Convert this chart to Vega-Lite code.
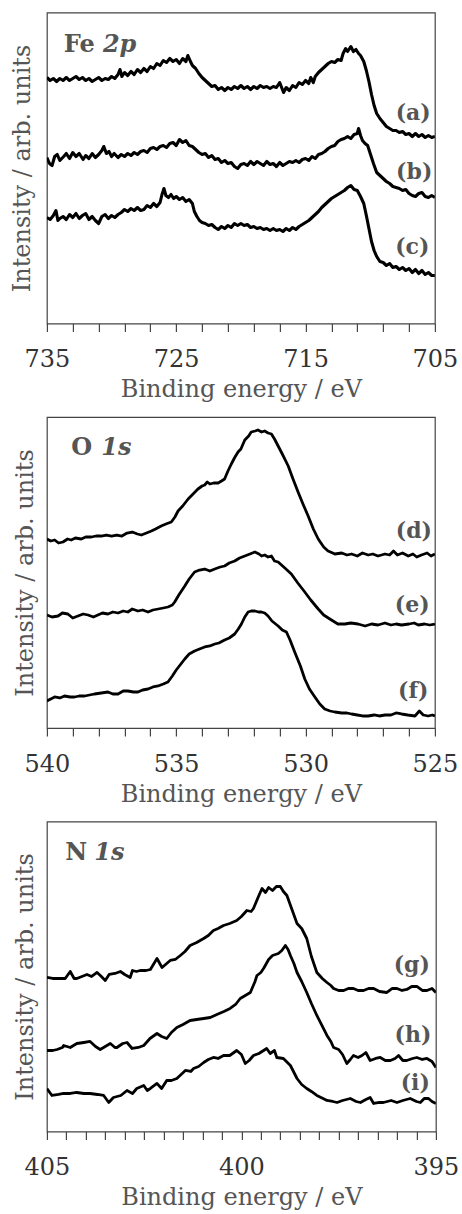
{
"$schema": "https://vega.github.io/schema/vega-lite/v6.json",
"padding": {"left": 9.9, "top": 11.5, "right": 5, "bottom": 0},
"spacing": 13.5,
"config": {
  "font": "DejaVu Serif",
  "view": {"stroke": "#444", "strokeWidth": 1.2},
  "text": {"font": "DejaVu Serif"},
  "axis": {"grid": false, "domain": false, "labelFont": "DejaVu Serif", "titleFont": "DejaVu Serif", "titleFontWeight": "normal", "labelFontSize": 24, "titleFontSize": 24, "labelColor": "#333", "titleColor": "#555", "tickColor": "#444", "tickWidth": 1.2, "minExtent": 0, "labelOverlap": false, "labelFlush": false, "labelBound": false, "format": "d"}
},
"datasets": {
"fe": [
{"s":"a","E":735.0,"I":246},{"s":"a","E":734.75,"I":243},{"s":"a","E":734.5,"I":245},{"s":"a","E":734.25,"I":242},{"s":"a","E":734.0,"I":245},{"s":"a","E":733.75,"I":243},{"s":"a","E":733.5,"I":246},{"s":"a","E":733.25,"I":243},{"s":"a","E":733.0,"I":245},{"s":"a","E":732.75,"I":247},{"s":"a","E":732.5,"I":244},{"s":"a","E":732.25,"I":246},{"s":"a","E":732.0,"I":243},{"s":"a","E":731.75,"I":245},{"s":"a","E":731.5,"I":242},{"s":"a","E":731.25,"I":244},{"s":"a","E":731.0,"I":246},{"s":"a","E":730.75,"I":243},{"s":"a","E":730.5,"I":245},{"s":"a","E":730.25,"I":244},{"s":"a","E":730.0,"I":247},{"s":"a","E":729.75,"I":245},{"s":"a","E":729.5,"I":249},{"s":"a","E":729.35,"I":254},{"s":"a","E":729.2,"I":247},{"s":"a","E":729.0,"I":251},{"s":"a","E":728.75,"I":248},{"s":"a","E":728.5,"I":252},{"s":"a","E":728.25,"I":249},{"s":"a","E":728.0,"I":254},{"s":"a","E":727.75,"I":251},{"s":"a","E":727.5,"I":255},{"s":"a","E":727.25,"I":252},{"s":"a","E":727.0,"I":257},{"s":"a","E":726.75,"I":255},{"s":"a","E":726.5,"I":260},{"s":"a","E":726.25,"I":258},{"s":"a","E":726.0,"I":263},{"s":"a","E":725.75,"I":261},{"s":"a","E":725.5,"I":265},{"s":"a","E":725.25,"I":262},{"s":"a","E":725.0,"I":264},{"s":"a","E":724.75,"I":260},{"s":"a","E":724.5,"I":265},{"s":"a","E":724.25,"I":262},{"s":"a","E":724.1,"I":268},{"s":"a","E":723.9,"I":262},{"s":"a","E":723.75,"I":258},{"s":"a","E":723.5,"I":255},{"s":"a","E":723.25,"I":250},{"s":"a","E":723.0,"I":246},{"s":"a","E":722.75,"I":243},{"s":"a","E":722.5,"I":240},{"s":"a","E":722.25,"I":237},{"s":"a","E":722.0,"I":238},{"s":"a","E":721.75,"I":234},{"s":"a","E":721.5,"I":236},{"s":"a","E":721.25,"I":233},{"s":"a","E":721.0,"I":236},{"s":"a","E":720.75,"I":234},{"s":"a","E":720.5,"I":237},{"s":"a","E":720.25,"I":235},{"s":"a","E":720.0,"I":238},{"s":"a","E":719.75,"I":235},{"s":"a","E":719.5,"I":237},{"s":"a","E":719.25,"I":234},{"s":"a","E":719.0,"I":237},{"s":"a","E":718.75,"I":235},{"s":"a","E":718.5,"I":238},{"s":"a","E":718.25,"I":236},{"s":"a","E":718.0,"I":237},{"s":"a","E":717.75,"I":235},{"s":"a","E":717.5,"I":237},{"s":"a","E":717.25,"I":236},{"s":"a","E":717.0,"I":241},{"s":"a","E":716.85,"I":236},{"s":"a","E":716.7,"I":231},{"s":"a","E":716.5,"I":236},{"s":"a","E":716.25,"I":233},{"s":"a","E":716.0,"I":238},{"s":"a","E":715.75,"I":236},{"s":"a","E":715.5,"I":241},{"s":"a","E":715.25,"I":239},{"s":"a","E":715.0,"I":243},{"s":"a","E":714.75,"I":240},{"s":"a","E":714.6,"I":246},{"s":"a","E":714.4,"I":241},{"s":"a","E":714.25,"I":247},{"s":"a","E":714.0,"I":251},{"s":"a","E":713.75,"I":254},{"s":"a","E":713.5,"I":257},{"s":"a","E":713.25,"I":260},{"s":"a","E":713.0,"I":262},{"s":"a","E":712.75,"I":261},{"s":"a","E":712.5,"I":264},{"s":"a","E":712.25,"I":263},{"s":"a","E":712.1,"I":270},{"s":"a","E":711.9,"I":275},{"s":"a","E":711.75,"I":272},{"s":"a","E":711.5,"I":277},{"s":"a","E":711.3,"I":272},{"s":"a","E":711.1,"I":274},{"s":"a","E":710.9,"I":270},{"s":"a","E":710.75,"I":268},{"s":"a","E":710.5,"I":262},{"s":"a","E":710.3,"I":253},{"s":"a","E":710.1,"I":242},{"s":"a","E":709.9,"I":229},{"s":"a","E":709.7,"I":218},{"s":"a","E":709.5,"I":210},{"s":"a","E":709.25,"I":205},{"s":"a","E":709.0,"I":201},{"s":"a","E":708.75,"I":197},{"s":"a","E":708.5,"I":195},{"s":"a","E":708.25,"I":193},{"s":"a","E":708.0,"I":193},{"s":"a","E":707.75,"I":191},{"s":"a","E":707.5,"I":192},{"s":"a","E":707.25,"I":189},{"s":"a","E":707.0,"I":190},{"s":"a","E":706.75,"I":187},{"s":"a","E":706.5,"I":190},{"s":"a","E":706.25,"I":187},{"s":"a","E":706.0,"I":189},{"s":"a","E":705.75,"I":186},{"s":"a","E":705.5,"I":188},{"s":"a","E":705.25,"I":186},{"s":"a","E":705.0,"I":187},
{"s":"b","E":735.0,"I":166},{"s":"b","E":734.8,"I":160},{"s":"b","E":734.6,"I":158},{"s":"b","E":734.4,"I":167},{"s":"b","E":734.2,"I":169},{"s":"b","E":734.0,"I":163},{"s":"b","E":733.7,"I":167},{"s":"b","E":733.5,"I":170},{"s":"b","E":733.25,"I":165},{"s":"b","E":733.0,"I":171},{"s":"b","E":732.75,"I":167},{"s":"b","E":732.5,"I":170},{"s":"b","E":732.2,"I":164},{"s":"b","E":732.0,"I":168},{"s":"b","E":731.75,"I":165},{"s":"b","E":731.5,"I":170},{"s":"b","E":731.25,"I":166},{"s":"b","E":731.0,"I":169},{"s":"b","E":730.75,"I":173},{"s":"b","E":730.6,"I":177},{"s":"b","E":730.4,"I":170},{"s":"b","E":730.2,"I":172},{"s":"b","E":730.0,"I":167},{"s":"b","E":729.8,"I":170},{"s":"b","E":729.5,"I":166},{"s":"b","E":729.25,"I":169},{"s":"b","E":729.0,"I":167},{"s":"b","E":728.75,"I":170},{"s":"b","E":728.5,"I":168},{"s":"b","E":728.25,"I":171},{"s":"b","E":728.0,"I":169},{"s":"b","E":727.75,"I":172},{"s":"b","E":727.5,"I":173},{"s":"b","E":727.25,"I":171},{"s":"b","E":727.0,"I":175},{"s":"b","E":726.75,"I":176},{"s":"b","E":726.5,"I":174},{"s":"b","E":726.25,"I":177},{"s":"b","E":726.0,"I":178},{"s":"b","E":725.75,"I":176},{"s":"b","E":725.5,"I":180},{"s":"b","E":725.25,"I":181},{"s":"b","E":725.0,"I":178},{"s":"b","E":724.75,"I":184},{"s":"b","E":724.5,"I":181},{"s":"b","E":724.25,"I":183},{"s":"b","E":724.0,"I":178},{"s":"b","E":723.75,"I":177},{"s":"b","E":723.5,"I":174},{"s":"b","E":723.25,"I":171},{"s":"b","E":723.0,"I":169},{"s":"b","E":722.75,"I":170},{"s":"b","E":722.5,"I":166},{"s":"b","E":722.25,"I":168},{"s":"b","E":722.0,"I":164},{"s":"b","E":721.75,"I":165},{"s":"b","E":721.5,"I":161},{"s":"b","E":721.25,"I":163},{"s":"b","E":721.0,"I":160},{"s":"b","E":720.75,"I":161},{"s":"b","E":720.5,"I":157},{"s":"b","E":720.25,"I":155},{"s":"b","E":720.0,"I":159},{"s":"b","E":719.75,"I":160},{"s":"b","E":719.5,"I":158},{"s":"b","E":719.25,"I":162},{"s":"b","E":719.0,"I":159},{"s":"b","E":718.75,"I":162},{"s":"b","E":718.5,"I":160},{"s":"b","E":718.25,"I":158},{"s":"b","E":718.0,"I":162},{"s":"b","E":717.75,"I":159},{"s":"b","E":717.5,"I":160},{"s":"b","E":717.25,"I":157},{"s":"b","E":717.0,"I":161},{"s":"b","E":716.75,"I":158},{"s":"b","E":716.5,"I":160},{"s":"b","E":716.25,"I":162},{"s":"b","E":716.0,"I":161},{"s":"b","E":715.75,"I":163},{"s":"b","E":715.5,"I":161},{"s":"b","E":715.25,"I":164},{"s":"b","E":715.0,"I":165},{"s":"b","E":714.75,"I":163},{"s":"b","E":714.5,"I":167},{"s":"b","E":714.25,"I":165},{"s":"b","E":714.0,"I":169},{"s":"b","E":713.75,"I":170},{"s":"b","E":713.5,"I":172},{"s":"b","E":713.25,"I":175},{"s":"b","E":713.0,"I":177},{"s":"b","E":712.75,"I":178},{"s":"b","E":712.5,"I":182},{"s":"b","E":712.25,"I":184},{"s":"b","E":712.0,"I":185},{"s":"b","E":711.75,"I":187},{"s":"b","E":711.5,"I":185},{"s":"b","E":711.25,"I":189},{"s":"b","E":711.0,"I":190},{"s":"b","E":710.9,"I":195},{"s":"b","E":710.75,"I":188},{"s":"b","E":710.6,"I":183},{"s":"b","E":710.4,"I":180},{"s":"b","E":710.2,"I":178},{"s":"b","E":710.0,"I":170},{"s":"b","E":709.75,"I":160},{"s":"b","E":709.5,"I":151},{"s":"b","E":709.25,"I":148},{"s":"b","E":709.0,"I":145},{"s":"b","E":708.75,"I":142},{"s":"b","E":708.5,"I":140},{"s":"b","E":708.25,"I":137},{"s":"b","E":708.0,"I":136},{"s":"b","E":707.75,"I":135},{"s":"b","E":707.5,"I":133},{"s":"b","E":707.25,"I":134},{"s":"b","E":707.0,"I":130},{"s":"b","E":706.75,"I":128},{"s":"b","E":706.5,"I":127},{"s":"b","E":706.25,"I":130},{"s":"b","E":706.0,"I":131},{"s":"b","E":705.75,"I":127},{"s":"b","E":705.5,"I":126},{"s":"b","E":705.25,"I":128},{"s":"b","E":705.0,"I":126},
{"s":"c","E":735.0,"I":106},{"s":"c","E":734.75,"I":104},{"s":"c","E":734.5,"I":108},{"s":"c","E":734.3,"I":113},{"s":"c","E":734.15,"I":103},{"s":"c","E":734.0,"I":105},{"s":"c","E":733.75,"I":107},{"s":"c","E":733.5,"I":104},{"s":"c","E":733.25,"I":109},{"s":"c","E":733.0,"I":106},{"s":"c","E":732.75,"I":110},{"s":"c","E":732.5,"I":105},{"s":"c","E":732.25,"I":108},{"s":"c","E":732.0,"I":110},{"s":"c","E":731.75,"I":104},{"s":"c","E":731.5,"I":107},{"s":"c","E":731.25,"I":103},{"s":"c","E":731.0,"I":100},{"s":"c","E":730.75,"I":107},{"s":"c","E":730.5,"I":109},{"s":"c","E":730.25,"I":105},{"s":"c","E":730.0,"I":108},{"s":"c","E":729.75,"I":106},{"s":"c","E":729.5,"I":109},{"s":"c","E":729.25,"I":111},{"s":"c","E":729.0,"I":114},{"s":"c","E":728.75,"I":112},{"s":"c","E":728.5,"I":115},{"s":"c","E":728.25,"I":113},{"s":"c","E":728.0,"I":116},{"s":"c","E":727.75,"I":113},{"s":"c","E":727.5,"I":114},{"s":"c","E":727.25,"I":118},{"s":"c","E":727.0,"I":116},{"s":"c","E":726.75,"I":120},{"s":"c","E":726.5,"I":117},{"s":"c","E":726.25,"I":121},{"s":"c","E":726.1,"I":129},{"s":"c","E":725.95,"I":135},{"s":"c","E":725.8,"I":128},{"s":"c","E":725.6,"I":126},{"s":"c","E":725.4,"I":129},{"s":"c","E":725.2,"I":125},{"s":"c","E":725.0,"I":127},{"s":"c","E":724.75,"I":124},{"s":"c","E":724.5,"I":126},{"s":"c","E":724.25,"I":122},{"s":"c","E":724.0,"I":124},{"s":"c","E":723.75,"I":120},{"s":"c","E":723.6,"I":112},{"s":"c","E":723.4,"I":107},{"s":"c","E":723.2,"I":103},{"s":"c","E":723.0,"I":101},{"s":"c","E":722.75,"I":100},{"s":"c","E":722.5,"I":98},{"s":"c","E":722.25,"I":99},{"s":"c","E":722.0,"I":96},{"s":"c","E":721.75,"I":94},{"s":"c","E":721.5,"I":97},{"s":"c","E":721.25,"I":95},{"s":"c","E":721.0,"I":98},{"s":"c","E":720.75,"I":96},{"s":"c","E":720.5,"I":100},{"s":"c","E":720.25,"I":98},{"s":"c","E":720.0,"I":100},{"s":"c","E":719.75,"I":98},{"s":"c","E":719.5,"I":99},{"s":"c","E":719.25,"I":96},{"s":"c","E":719.0,"I":97},{"s":"c","E":718.75,"I":95},{"s":"c","E":718.5,"I":96},{"s":"c","E":718.25,"I":94},{"s":"c","E":718.0,"I":95},{"s":"c","E":717.75,"I":93},{"s":"c","E":717.5,"I":95},{"s":"c","E":717.25,"I":93},{"s":"c","E":717.0,"I":94},{"s":"c","E":716.75,"I":92},{"s":"c","E":716.5,"I":95},{"s":"c","E":716.25,"I":93},{"s":"c","E":716.0,"I":96},{"s":"c","E":715.75,"I":94},{"s":"c","E":715.5,"I":97},{"s":"c","E":715.25,"I":99},{"s":"c","E":715.0,"I":101},{"s":"c","E":714.75,"I":103},{"s":"c","E":714.5,"I":106},{"s":"c","E":714.25,"I":109},{"s":"c","E":714.0,"I":112},{"s":"c","E":713.75,"I":116},{"s":"c","E":713.5,"I":119},{"s":"c","E":713.25,"I":122},{"s":"c","E":713.0,"I":125},{"s":"c","E":712.75,"I":127},{"s":"c","E":712.5,"I":129},{"s":"c","E":712.25,"I":131},{"s":"c","E":712.0,"I":133},{"s":"c","E":711.75,"I":136},{"s":"c","E":711.5,"I":138},{"s":"c","E":711.25,"I":134},{"s":"c","E":711.0,"I":133},{"s":"c","E":710.75,"I":127},{"s":"c","E":710.5,"I":120},{"s":"c","E":710.3,"I":108},{"s":"c","E":710.1,"I":95},{"s":"c","E":709.9,"I":82},{"s":"c","E":709.7,"I":73},{"s":"c","E":709.5,"I":67},{"s":"c","E":709.25,"I":62},{"s":"c","E":709.0,"I":61},{"s":"c","E":708.75,"I":58},{"s":"c","E":708.5,"I":60},{"s":"c","E":708.25,"I":56},{"s":"c","E":708.0,"I":57},{"s":"c","E":707.75,"I":54},{"s":"c","E":707.5,"I":56},{"s":"c","E":707.25,"I":53},{"s":"c","E":707.0,"I":55},{"s":"c","E":706.75,"I":51},{"s":"c","E":706.5,"I":54},{"s":"c","E":706.25,"I":50},{"s":"c","E":706.0,"I":53},{"s":"c","E":705.75,"I":49},{"s":"c","E":705.5,"I":51},{"s":"c","E":705.25,"I":48},{"s":"c","E":705.0,"I":48}
],
"o": [
{"s":"d","E":540.0,"I":189},{"s":"d","E":539.85,"I":187},{"s":"d","E":539.7,"I":188},{"s":"d","E":539.55,"I":185},{"s":"d","E":539.38,"I":186},{"s":"d","E":539.2,"I":189},{"s":"d","E":539.06,"I":188},{"s":"d","E":538.9,"I":190},{"s":"d","E":538.67,"I":189},{"s":"d","E":538.5,"I":191},{"s":"d","E":538.28,"I":191},{"s":"d","E":538.1,"I":192},{"s":"d","E":537.9,"I":192},{"s":"d","E":537.7,"I":193},{"s":"d","E":537.5,"I":192},{"s":"d","E":537.3,"I":193},{"s":"d","E":537.1,"I":192},{"s":"d","E":536.9,"I":195},{"s":"d","E":536.7,"I":196},{"s":"d","E":536.5,"I":194},{"s":"d","E":536.35,"I":193},{"s":"d","E":536.15,"I":195},{"s":"d","E":535.96,"I":197},{"s":"d","E":535.8,"I":199},{"s":"d","E":535.58,"I":202},{"s":"d","E":535.4,"I":204},{"s":"d","E":535.19,"I":206},{"s":"d","E":535.05,"I":211},{"s":"d","E":534.93,"I":217},{"s":"d","E":534.75,"I":222},{"s":"d","E":534.54,"I":229},{"s":"d","E":534.35,"I":234},{"s":"d","E":534.16,"I":239},{"s":"d","E":534.0,"I":242},{"s":"d","E":533.9,"I":243},{"s":"d","E":533.8,"I":246},{"s":"d","E":533.7,"I":244},{"s":"d","E":533.55,"I":245},{"s":"d","E":533.38,"I":245},{"s":"d","E":533.25,"I":247},{"s":"d","E":533.13,"I":249},{"s":"d","E":533.0,"I":257},{"s":"d","E":532.87,"I":264},{"s":"d","E":532.75,"I":270},{"s":"d","E":532.61,"I":276},{"s":"d","E":532.5,"I":279},{"s":"d","E":532.35,"I":288},{"s":"d","E":532.2,"I":292},{"s":"d","E":532.1,"I":296},{"s":"d","E":531.95,"I":297},{"s":"d","E":531.84,"I":298},{"s":"d","E":531.7,"I":296},{"s":"d","E":531.58,"I":297},{"s":"d","E":531.45,"I":295},{"s":"d","E":531.32,"I":294},{"s":"d","E":531.2,"I":289},{"s":"d","E":531.06,"I":282},{"s":"d","E":530.9,"I":274},{"s":"d","E":530.67,"I":262},{"s":"d","E":530.5,"I":250},{"s":"d","E":530.29,"I":236},{"s":"d","E":530.1,"I":224},{"s":"d","E":529.9,"I":212},{"s":"d","E":529.7,"I":199},{"s":"d","E":529.51,"I":189},{"s":"d","E":529.3,"I":181},{"s":"d","E":529.13,"I":177},{"s":"d","E":528.95,"I":175},{"s":"d","E":528.87,"I":174},{"s":"d","E":528.6,"I":175},{"s":"d","E":528.4,"I":173},{"s":"d","E":528.22,"I":174},{"s":"d","E":528.0,"I":172},{"s":"d","E":527.8,"I":175},{"s":"d","E":527.58,"I":173},{"s":"d","E":527.4,"I":174},{"s":"d","E":527.2,"I":172},{"s":"d","E":526.93,"I":174},{"s":"d","E":526.75,"I":173},{"s":"d","E":526.6,"I":177},{"s":"d","E":526.45,"I":173},{"s":"d","E":526.25,"I":175},{"s":"d","E":526.03,"I":172},{"s":"d","E":525.85,"I":174},{"s":"d","E":525.7,"I":171},{"s":"d","E":525.52,"I":173},{"s":"d","E":525.3,"I":175},{"s":"d","E":525.15,"I":172},{"s":"d","E":525.0,"I":174},
{"s":"e","E":540.0,"I":113},{"s":"e","E":539.8,"I":111},{"s":"e","E":539.57,"I":112},{"s":"e","E":539.4,"I":115},{"s":"e","E":539.19,"I":114},{"s":"e","E":539.0,"I":110},{"s":"e","E":538.8,"I":112},{"s":"e","E":538.6,"I":114},{"s":"e","E":538.41,"I":113},{"s":"e","E":538.2,"I":111},{"s":"e","E":538.03,"I":113},{"s":"e","E":537.85,"I":115},{"s":"e","E":537.64,"I":114},{"s":"e","E":537.45,"I":116},{"s":"e","E":537.25,"I":115},{"s":"e","E":537.05,"I":117},{"s":"e","E":536.87,"I":116},{"s":"e","E":536.7,"I":119},{"s":"e","E":536.48,"I":117},{"s":"e","E":536.3,"I":118},{"s":"e","E":536.09,"I":116},{"s":"e","E":535.9,"I":118},{"s":"e","E":535.7,"I":119},{"s":"e","E":535.5,"I":120},{"s":"e","E":535.32,"I":121},{"s":"e","E":535.15,"I":123},{"s":"e","E":535.06,"I":126},{"s":"e","E":534.9,"I":133},{"s":"e","E":534.67,"I":142},{"s":"e","E":534.5,"I":149},{"s":"e","E":534.29,"I":156},{"s":"e","E":534.1,"I":158},{"s":"e","E":533.9,"I":159},{"s":"e","E":533.7,"I":157},{"s":"e","E":533.51,"I":159},{"s":"e","E":533.3,"I":161},{"s":"e","E":533.13,"I":162},{"s":"e","E":532.95,"I":165},{"s":"e","E":532.74,"I":167},{"s":"e","E":532.55,"I":170},{"s":"e","E":532.35,"I":172},{"s":"e","E":532.15,"I":174},{"s":"e","E":531.96,"I":176},{"s":"e","E":531.8,"I":174},{"s":"e","E":531.7,"I":172},{"s":"e","E":531.58,"I":173},{"s":"e","E":531.45,"I":171},{"s":"e","E":531.32,"I":172},{"s":"e","E":531.2,"I":167},{"s":"e","E":531.06,"I":166},{"s":"e","E":530.8,"I":160},{"s":"e","E":530.55,"I":154},{"s":"e","E":530.3,"I":145},{"s":"e","E":530.03,"I":136},{"s":"e","E":529.8,"I":128},{"s":"e","E":529.51,"I":119},{"s":"e","E":529.3,"I":113},{"s":"e","E":529.0,"I":108},{"s":"e","E":528.75,"I":104},{"s":"e","E":528.48,"I":104},{"s":"e","E":528.25,"I":105},{"s":"e","E":527.97,"I":104},{"s":"e","E":527.7,"I":102},{"s":"e","E":527.45,"I":104},{"s":"e","E":527.2,"I":103},{"s":"e","E":526.93,"I":105},{"s":"e","E":526.7,"I":103},{"s":"e","E":526.5,"I":104},{"s":"e","E":526.29,"I":103},{"s":"e","E":526.0,"I":104},{"s":"e","E":525.8,"I":105},{"s":"e","E":525.64,"I":103},{"s":"e","E":525.4,"I":104},{"s":"e","E":525.2,"I":103},{"s":"e","E":525.0,"I":104},
{"s":"f","E":540.0,"I":27},{"s":"f","E":539.85,"I":29},{"s":"f","E":539.7,"I":31},{"s":"f","E":539.5,"I":30},{"s":"f","E":539.32,"I":32},{"s":"f","E":539.1,"I":31},{"s":"f","E":538.93,"I":31},{"s":"f","E":538.75,"I":32},{"s":"f","E":538.54,"I":32},{"s":"f","E":538.35,"I":33},{"s":"f","E":538.16,"I":34},{"s":"f","E":537.9,"I":35},{"s":"f","E":537.64,"I":36},{"s":"f","E":537.45,"I":34},{"s":"f","E":537.25,"I":34},{"s":"f","E":537.05,"I":37},{"s":"f","E":536.87,"I":37},{"s":"f","E":536.65,"I":36},{"s":"f","E":536.48,"I":36},{"s":"f","E":536.3,"I":38},{"s":"f","E":536.09,"I":39},{"s":"f","E":535.9,"I":41},{"s":"f","E":535.7,"I":42},{"s":"f","E":535.5,"I":44},{"s":"f","E":535.32,"I":46},{"s":"f","E":535.15,"I":52},{"s":"f","E":535.0,"I":58},{"s":"f","E":534.85,"I":63},{"s":"f","E":534.67,"I":69},{"s":"f","E":534.5,"I":74},{"s":"f","E":534.29,"I":77},{"s":"f","E":534.1,"I":79},{"s":"f","E":533.9,"I":81},{"s":"f","E":533.7,"I":82},{"s":"f","E":533.51,"I":84},{"s":"f","E":533.35,"I":85},{"s":"f","E":533.13,"I":88},{"s":"f","E":532.95,"I":90},{"s":"f","E":532.74,"I":94},{"s":"f","E":532.6,"I":99},{"s":"f","E":532.48,"I":104},{"s":"f","E":532.35,"I":111},{"s":"f","E":532.22,"I":116},{"s":"f","E":532.1,"I":117},{"s":"f","E":531.96,"I":117},{"s":"f","E":531.82,"I":116},{"s":"f","E":531.71,"I":116},{"s":"f","E":531.58,"I":115},{"s":"f","E":531.45,"I":112},{"s":"f","E":531.3,"I":107},{"s":"f","E":531.06,"I":102},{"s":"f","E":530.9,"I":98},{"s":"f","E":530.74,"I":96},{"s":"f","E":530.6,"I":88},{"s":"f","E":530.42,"I":76},{"s":"f","E":530.2,"I":62},{"s":"f","E":530.03,"I":49},{"s":"f","E":529.85,"I":39},{"s":"f","E":529.64,"I":31},{"s":"f","E":529.45,"I":24},{"s":"f","E":529.26,"I":19},{"s":"f","E":529.05,"I":17},{"s":"f","E":528.87,"I":16},{"s":"f","E":528.6,"I":15},{"s":"f","E":528.4,"I":15},{"s":"f","E":528.22,"I":14},{"s":"f","E":528.0,"I":13},{"s":"f","E":527.8,"I":12},{"s":"f","E":527.58,"I":12},{"s":"f","E":527.35,"I":13},{"s":"f","E":527.15,"I":12},{"s":"f","E":526.93,"I":13},{"s":"f","E":526.7,"I":13},{"s":"f","E":526.5,"I":15},{"s":"f","E":526.29,"I":14},{"s":"f","E":526.05,"I":13},{"s":"f","E":525.77,"I":12},{"s":"f","E":525.6,"I":17},{"s":"f","E":525.45,"I":13},{"s":"f","E":525.26,"I":12},{"s":"f","E":525.1,"I":13},{"s":"f","E":525.0,"I":12}
],
"n": [
{"s":"g","E":405.0,"I":154},{"s":"g","E":404.85,"I":153},{"s":"g","E":404.74,"I":153},{"s":"g","E":404.6,"I":153},{"s":"g","E":404.53,"I":153},{"s":"g","E":404.4,"I":160},{"s":"g","E":404.3,"I":153},{"s":"g","E":404.23,"I":153},{"s":"g","E":404.1,"I":155},{"s":"g","E":403.97,"I":157},{"s":"g","E":403.85,"I":155},{"s":"g","E":403.71,"I":159},{"s":"g","E":403.6,"I":155},{"s":"g","E":403.5,"I":151},{"s":"g","E":403.4,"I":157},{"s":"g","E":403.25,"I":158},{"s":"g","E":403.11,"I":160},{"s":"g","E":403.0,"I":157},{"s":"g","E":402.86,"I":154},{"s":"g","E":402.8,"I":161},{"s":"g","E":402.7,"I":160},{"s":"g","E":402.6,"I":161},{"s":"g","E":402.45,"I":161},{"s":"g","E":402.34,"I":162},{"s":"g","E":402.17,"I":173},{"s":"g","E":402.04,"I":164},{"s":"g","E":401.95,"I":167},{"s":"g","E":401.83,"I":171},{"s":"g","E":401.7,"I":172},{"s":"g","E":401.57,"I":176},{"s":"g","E":401.45,"I":180},{"s":"g","E":401.32,"I":186},{"s":"g","E":401.15,"I":189},{"s":"g","E":400.97,"I":193},{"s":"g","E":400.85,"I":196},{"s":"g","E":400.72,"I":201},{"s":"g","E":400.6,"I":203},{"s":"g","E":400.46,"I":206},{"s":"g","E":400.3,"I":208},{"s":"g","E":400.12,"I":211},{"s":"g","E":400.0,"I":215},{"s":"g","E":399.86,"I":221},{"s":"g","E":399.75,"I":220},{"s":"g","E":399.69,"I":223},{"s":"g","E":399.55,"I":236},{"s":"g","E":399.47,"I":243},{"s":"g","E":399.38,"I":239},{"s":"g","E":399.3,"I":244},{"s":"g","E":399.2,"I":241},{"s":"g","E":399.1,"I":245},{"s":"g","E":399.0,"I":245},{"s":"g","E":398.92,"I":240},{"s":"g","E":398.83,"I":236},{"s":"g","E":398.7,"I":222},{"s":"g","E":398.57,"I":208},{"s":"g","E":398.45,"I":203},{"s":"g","E":398.32,"I":193},{"s":"g","E":398.2,"I":175},{"s":"g","E":398.06,"I":159},{"s":"g","E":397.92,"I":153},{"s":"g","E":397.8,"I":149},{"s":"g","E":397.7,"I":146},{"s":"g","E":397.63,"I":143},{"s":"g","E":397.5,"I":141},{"s":"g","E":397.37,"I":141},{"s":"g","E":397.25,"I":143},{"s":"g","E":397.12,"I":143},{"s":"g","E":397.0,"I":141},{"s":"g","E":396.86,"I":141},{"s":"g","E":396.73,"I":143},{"s":"g","E":396.6,"I":143},{"s":"g","E":396.45,"I":140},{"s":"g","E":396.26,"I":139},{"s":"g","E":396.12,"I":143},{"s":"g","E":396.0,"I":143},{"s":"g","E":395.87,"I":141},{"s":"g","E":395.75,"I":142},{"s":"g","E":395.62,"I":145},{"s":"g","E":395.49,"I":145},{"s":"g","E":395.35,"I":141},{"s":"g","E":395.23,"I":141},{"s":"g","E":395.1,"I":143},{"s":"g","E":395.0,"I":139},
{"s":"h","E":405.0,"I":81},{"s":"h","E":404.85,"I":81},{"s":"h","E":404.74,"I":82},{"s":"h","E":404.6,"I":84},{"s":"h","E":404.57,"I":86},{"s":"h","E":404.4,"I":84},{"s":"h","E":404.23,"I":88},{"s":"h","E":404.05,"I":89},{"s":"h","E":403.89,"I":90},{"s":"h","E":403.75,"I":85},{"s":"h","E":403.63,"I":82},{"s":"h","E":403.5,"I":85},{"s":"h","E":403.37,"I":88},{"s":"h","E":403.25,"I":84},{"s":"h","E":403.2,"I":84},{"s":"h","E":403.05,"I":88},{"s":"h","E":402.94,"I":89},{"s":"h","E":402.81,"I":83},{"s":"h","E":402.65,"I":84},{"s":"h","E":402.51,"I":86},{"s":"h","E":402.35,"I":93},{"s":"h","E":402.17,"I":98},{"s":"h","E":402.05,"I":95},{"s":"h","E":401.92,"I":93},{"s":"h","E":401.8,"I":99},{"s":"h","E":401.66,"I":104},{"s":"h","E":401.5,"I":107},{"s":"h","E":401.32,"I":111},{"s":"h","E":401.15,"I":112},{"s":"h","E":400.97,"I":113},{"s":"h","E":400.8,"I":114},{"s":"h","E":400.63,"I":117},{"s":"h","E":400.45,"I":120},{"s":"h","E":400.29,"I":123},{"s":"h","E":400.15,"I":127},{"s":"h","E":400.03,"I":133},{"s":"h","E":399.9,"I":136},{"s":"h","E":399.77,"I":139},{"s":"h","E":399.65,"I":150},{"s":"h","E":399.6,"I":156},{"s":"h","E":399.5,"I":159},{"s":"h","E":399.43,"I":163},{"s":"h","E":399.3,"I":172},{"s":"h","E":399.2,"I":176},{"s":"h","E":399.05,"I":178},{"s":"h","E":398.96,"I":181},{"s":"h","E":398.87,"I":186},{"s":"h","E":398.8,"I":182},{"s":"h","E":398.74,"I":176},{"s":"h","E":398.65,"I":168},{"s":"h","E":398.57,"I":159},{"s":"h","E":398.45,"I":150},{"s":"h","E":398.32,"I":139},{"s":"h","E":398.2,"I":128},{"s":"h","E":398.06,"I":116},{"s":"h","E":397.93,"I":106},{"s":"h","E":397.8,"I":96},{"s":"h","E":397.7,"I":90},{"s":"h","E":397.63,"I":84},{"s":"h","E":397.5,"I":82},{"s":"h","E":397.4,"I":77},{"s":"h","E":397.29,"I":68},{"s":"h","E":397.2,"I":72},{"s":"h","E":397.12,"I":76},{"s":"h","E":397.0,"I":74},{"s":"h","E":396.9,"I":76},{"s":"h","E":396.8,"I":79},{"s":"h","E":396.69,"I":71},{"s":"h","E":396.55,"I":73},{"s":"h","E":396.43,"I":74},{"s":"h","E":396.3,"I":71},{"s":"h","E":396.17,"I":71},{"s":"h","E":396.05,"I":73},{"s":"h","E":395.96,"I":76},{"s":"h","E":395.85,"I":71},{"s":"h","E":395.75,"I":71},{"s":"h","E":395.6,"I":73},{"s":"h","E":395.49,"I":74},{"s":"h","E":395.35,"I":72},{"s":"h","E":395.23,"I":73},{"s":"h","E":395.1,"I":70},{"s":"h","E":395.0,"I":64},
{"s":"i","E":405.0,"I":43},{"s":"i","E":404.87,"I":36},{"s":"i","E":404.7,"I":37},{"s":"i","E":404.57,"I":38},{"s":"i","E":404.4,"I":38},{"s":"i","E":404.23,"I":39},{"s":"i","E":404.05,"I":38},{"s":"i","E":403.89,"I":38},{"s":"i","E":403.7,"I":37},{"s":"i","E":403.54,"I":36},{"s":"i","E":403.41,"I":29},{"s":"i","E":403.29,"I":34},{"s":"i","E":403.1,"I":36},{"s":"i","E":402.94,"I":41},{"s":"i","E":402.8,"I":38},{"s":"i","E":402.69,"I":43},{"s":"i","E":402.51,"I":46},{"s":"i","E":402.42,"I":41},{"s":"i","E":402.34,"I":43},{"s":"i","E":402.17,"I":48},{"s":"i","E":402.05,"I":43},{"s":"i","E":401.92,"I":51},{"s":"i","E":401.8,"I":51},{"s":"i","E":401.66,"I":53},{"s":"i","E":401.55,"I":57},{"s":"i","E":401.44,"I":61},{"s":"i","E":401.3,"I":60},{"s":"i","E":401.23,"I":63},{"s":"i","E":401.1,"I":65},{"s":"i","E":400.97,"I":69},{"s":"i","E":400.85,"I":72},{"s":"i","E":400.72,"I":74},{"s":"i","E":400.6,"I":73},{"s":"i","E":400.46,"I":76},{"s":"i","E":400.3,"I":76},{"s":"i","E":400.12,"I":81},{"s":"i","E":400.0,"I":77},{"s":"i","E":399.9,"I":68},{"s":"i","E":399.8,"I":71},{"s":"i","E":399.69,"I":76},{"s":"i","E":399.55,"I":78},{"s":"i","E":399.43,"I":81},{"s":"i","E":399.35,"I":83},{"s":"i","E":399.26,"I":78},{"s":"i","E":399.15,"I":81},{"s":"i","E":399.09,"I":74},{"s":"i","E":398.92,"I":73},{"s":"i","E":398.74,"I":66},{"s":"i","E":398.57,"I":53},{"s":"i","E":398.45,"I":47},{"s":"i","E":398.32,"I":43},{"s":"i","E":398.2,"I":40},{"s":"i","E":398.06,"I":36},{"s":"i","E":397.9,"I":33},{"s":"i","E":397.8,"I":31},{"s":"i","E":397.65,"I":30},{"s":"i","E":397.54,"I":29},{"s":"i","E":397.4,"I":31},{"s":"i","E":397.2,"I":33},{"s":"i","E":397.05,"I":30},{"s":"i","E":396.94,"I":29},{"s":"i","E":396.8,"I":32},{"s":"i","E":396.69,"I":34},{"s":"i","E":396.6,"I":28},{"s":"i","E":396.45,"I":29},{"s":"i","E":396.35,"I":29},{"s":"i","E":396.15,"I":31},{"s":"i","E":396.0,"I":29},{"s":"i","E":395.85,"I":31},{"s":"i","E":395.66,"I":33},{"s":"i","E":395.5,"I":30},{"s":"i","E":395.4,"I":29},{"s":"i","E":395.3,"I":33},{"s":"i","E":395.19,"I":33},{"s":"i","E":395.1,"I":30},{"s":"i","E":395.0,"I":28}
],
"lab": [
{"p":1,"E":706.68,"I":211,"t":"(a)"},{"p":1,"E":706.6,"I":152,"t":"(b)"},{"p":1,"E":706.75,"I":76.7,"t":"(c)"},
{"p":2,"E":525.81,"I":196.6,"t":"(d)"},{"p":2,"E":525.88,"I":123.3,"t":"(e)"},{"p":2,"E":525.84,"I":36.6,"t":"(f)"},
{"p":3,"E":395.62,"I":166.6,"t":"(g)"},{"p":3,"E":395.59,"I":96,"t":"(h)"},{"p":3,"E":395.53,"I":48.3,"t":"(i)"}
],
"el": [
{"p":1,"k":0,"E":733.7,"I":272,"t":"Fe"},{"p":1,"k":1,"E":730.67,"I":272,"t":"2p"},
{"p":2,"k":0,"E":539.06,"I":273,"t":"O"},{"p":2,"k":1,"E":537.9,"I":273,"t":"1s"},
{"p":3,"k":0,"E":404.53,"I":271.6,"t":"N"},{"p":3,"k":1,"E":403.78,"I":271.6,"t":"1s"}
]
},
"vconcat": [
{
 "width": 388, "height": 311,
 "encoding": {
   "x": {"field": "E", "type": "quantitative", "scale": {"domain": [705, 735], "reverse": true, "nice": false, "zero": false},
     "axis": {"title": "Binding energy / eV", "values": [735,733,731,729,727,725,723,721,719,717,715,713,711,709,707,705], "labelExpr": "datum.value % 10 == 5 ? datum.label : ''", "tickSize": 8, "labelPadding": 16.4, "titlePadding": 6}},
   "y": {"field": "I", "type": "quantitative", "scale": {"domain": [0, 311], "nice": false, "zero": false},
     "axis": {"title": "Intensity / arb. units", "ticks": false, "labels": false, "titlePadding": 12.4}}
 },
 "layer": [
   {"data": {"name": "fe"}, "mark": {"type": "line", "color": "black", "strokeWidth": 3.1, "strokeJoin": "round", "clip": true}, "encoding": {"detail": {"field": "s"}}},
   {"data": {"name": "lab"}, "transform": [{"filter": "datum.p == 1"}], "mark": {"type": "text", "fontSize": 22, "fontWeight": "bold", "color": "#555", "align": "center", "baseline": "middle"}, "encoding": {"text": {"field": "t"}}},
   {"data": {"name": "el"}, "transform": [{"filter": "datum.p == 1 && datum.k == 0"}], "mark": {"type": "text", "fontSize": 24, "fontWeight": "bold", "color": "#555", "align": "left", "baseline": "alphabetic"}, "encoding": {"text": {"field": "t"}}},
   {"data": {"name": "el"}, "transform": [{"filter": "datum.p == 1 && datum.k == 1"}], "mark": {"type": "text", "fontSize": 24, "fontWeight": "bold", "fontStyle": "italic", "color": "#555", "align": "left", "baseline": "alphabetic"}, "encoding": {"text": {"field": "t"}}}
 ]
},
{
 "width": 388, "height": 311,
 "encoding": {
   "x": {"field": "E", "type": "quantitative", "scale": {"domain": [525, 540], "reverse": true, "nice": false, "zero": false},
     "axis": {"title": "Binding energy / eV", "values": [540,539,538,537,536,535,534,533,532,531,530,529,528,527,526,525], "labelExpr": "datum.value % 5 == 0 ? datum.label : ''", "tickSize": 8, "labelPadding": 16.4, "titlePadding": 6}},
   "y": {"field": "I", "type": "quantitative", "scale": {"domain": [0, 311], "nice": false, "zero": false},
     "axis": {"title": "Intensity / arb. units", "ticks": false, "labels": false, "titlePadding": 9.8}}
 },
 "layer": [
   {"data": {"name": "o"}, "mark": {"type": "line", "color": "black", "strokeWidth": 2.8, "strokeJoin": "round", "clip": true}, "encoding": {"detail": {"field": "s"}}},
   {"data": {"name": "lab"}, "transform": [{"filter": "datum.p == 2"}], "mark": {"type": "text", "fontSize": 22, "fontWeight": "bold", "color": "#555", "align": "center", "baseline": "middle"}, "encoding": {"text": {"field": "t"}}},
   {"data": {"name": "el"}, "transform": [{"filter": "datum.p == 2 && datum.k == 0"}], "mark": {"type": "text", "fontSize": 24, "fontWeight": "bold", "color": "#555", "align": "left", "baseline": "alphabetic"}, "encoding": {"text": {"field": "t"}}},
   {"data": {"name": "el"}, "transform": [{"filter": "datum.p == 2 && datum.k == 1"}], "mark": {"type": "text", "fontSize": 24, "fontWeight": "bold", "fontStyle": "italic", "color": "#555", "align": "left", "baseline": "alphabetic"}, "encoding": {"text": {"field": "t"}}}
 ]
},
{
 "width": 389, "height": 310,
 "encoding": {
   "x": {"field": "E", "type": "quantitative", "scale": {"domain": [395, 405], "reverse": true, "nice": false, "zero": false},
     "axis": {"title": "Binding energy / eV", "values": [405,404.5,404,403.5,403,402.5,402,401.5,401,400.5,400,399.5,399,398.5,398,397.5,397,396.5,396,395.5,395], "labelExpr": "datum.value % 5 == 0 ? datum.label : ''", "tickSize": 8, "labelPadding": 16.4, "titlePadding": 6}},
   "y": {"field": "I", "type": "quantitative", "scale": {"domain": [0, 310], "nice": false, "zero": false},
     "axis": {"title": "Intensity / arb. units", "ticks": false, "labels": false, "titlePadding": 9.0}}
 },
 "layer": [
   {"data": {"name": "n"}, "mark": {"type": "line", "color": "black", "strokeWidth": 2.8, "strokeJoin": "round", "clip": true}, "encoding": {"detail": {"field": "s"}}},
   {"data": {"name": "lab"}, "transform": [{"filter": "datum.p == 3"}], "mark": {"type": "text", "fontSize": 22, "fontWeight": "bold", "color": "#555", "align": "center", "baseline": "middle"}, "encoding": {"text": {"field": "t"}}},
   {"data": {"name": "el"}, "transform": [{"filter": "datum.p == 3 && datum.k == 0"}], "mark": {"type": "text", "fontSize": 24, "fontWeight": "bold", "color": "#555", "align": "left", "baseline": "alphabetic"}, "encoding": {"text": {"field": "t"}}},
   {"data": {"name": "el"}, "transform": [{"filter": "datum.p == 3 && datum.k == 1"}], "mark": {"type": "text", "fontSize": 24, "fontWeight": "bold", "fontStyle": "italic", "color": "#555", "align": "left", "baseline": "alphabetic"}, "encoding": {"text": {"field": "t"}}}
 ]
}
]
}
